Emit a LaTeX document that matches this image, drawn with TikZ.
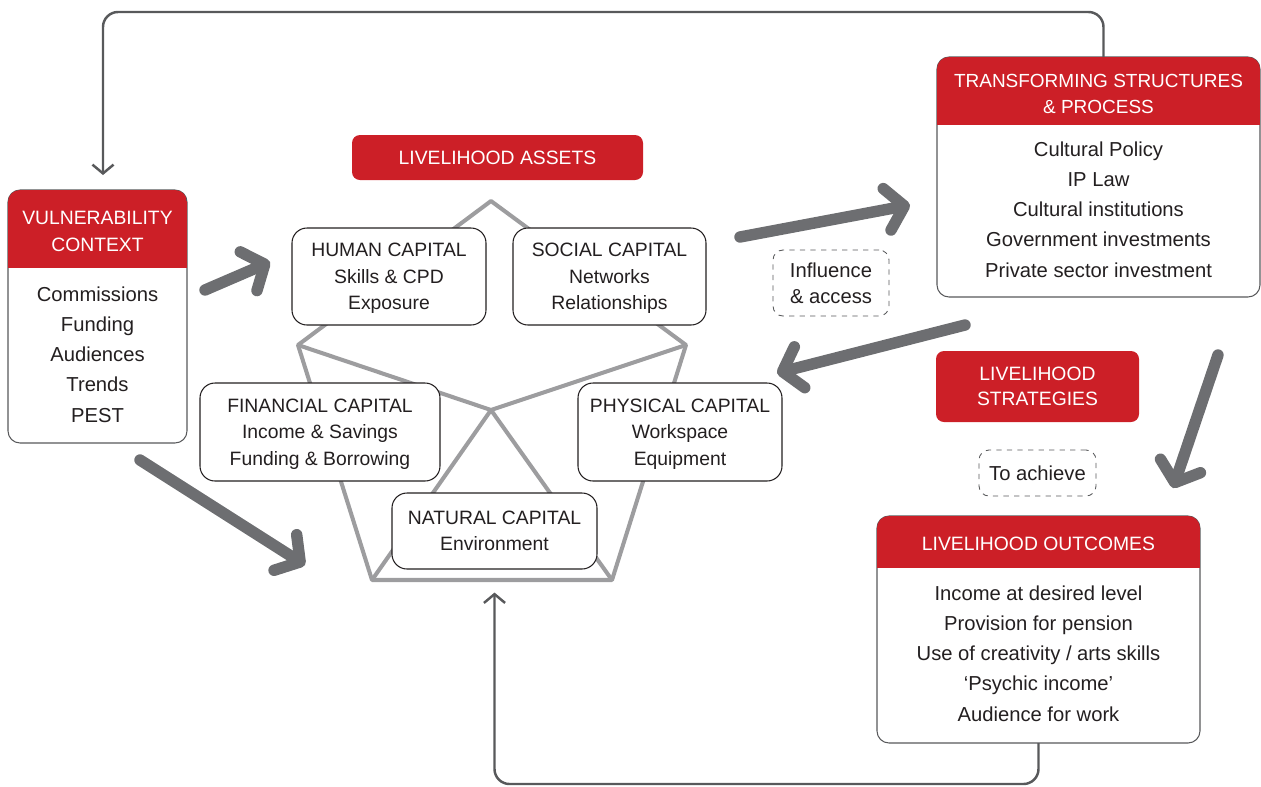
\documentclass[tikz,border=0pt]{standalone}
\usepackage{fontspec}
\setmainfont{Liberation Sans}
\usetikzlibrary{arrows.meta}
\usetikzlibrary{positioning}
\definecolor{slred}{HTML}{CC1F27}
\definecolor{slgrey}{HTML}{6D6E71}
\definecolor{slpent}{HTML}{9D9D9F}
\definecolor{slline}{HTML}{58595B}
\definecolor{slink}{HTML}{231F20}
\tikzset{panel/.style={draw=slline, line width=0.6pt, fill=white, rounded corners=0.24cm, outer sep=0pt}}
\tikzset{capbox/.style={draw=slink, line width=0.6pt, fill=white, rounded corners=0.3cm, align=center, text=slink,
    text depth=0pt, font=\fontsize{11}{15}\selectfont}}
\tikzset{redbox/.style={fill=slred, rounded corners=0.16cm, text=white, align=center, font=\fontsize{11}{14.2}\selectfont}}
\tikzset{hint/.style={draw=slline, dashed, line width=0.5pt, rounded corners=0.2cm, align=center, text=slink, font=\fontsize{11.5}{14.7}\selectfont}}
\tikzset{headtext/.style={text=white, align=center, font=\fontsize{11}{15.3}\selectfont}}
\tikzset{listtext/.style={text=slink, align=center, font=\fontsize{11.5}{17.2}\selectfont}}
\tikzset{bigarrow/.style={draw=slgrey, line width=6.5pt, line cap=round,
    -{Straight Barb[length=10pt,width=24pt,line cap=round,line join=round]}}}
\tikzset{flow/.style={draw=slline, line width=1.4pt, rounded corners=0.3cm,
    -{Straight Barb[length=5pt,width=12pt]}}}
\tikzset{pent/.style={draw=slpent, line width=2.3pt, line join=round}}
\newcommand{\redhead}[2]{
    \begin{scope}
        \clip[rounded corners=0.24cm] (#1.south west) rectangle (#1.north east);
        \fill[slred] (#1.north west) rectangle ([yshift=-#2]#1.north east);
    \end{scope}
}

\begin{document}
\begin{tikzpicture}
        \useasboundingbox (0,0) rectangle (25.22,-15.72);

        % asset pentagon
        \coordinate (ptop) at (9.82,-4.02);
        \coordinate (pleft) at (5.96,-6.9);
        \coordinate (pright) at (13.72,-6.9);
        \coordinate (pbl) at (7.44,-11.6);
        \coordinate (pbr) at (12.24,-11.6);
        \coordinate (pmid) at (9.82,-8.2);
        \draw[pent] (ptop) -- (pright) -- (pbr) -- (pbl) -- (pleft) -- cycle;
        \draw[pent] (pleft) -- (pmid) -- (pright);
        \draw[pent] (pbl) -- (pmid) -- (pbr);

        \node[redbox, minimum width=5.82cm, minimum height=0.9cm] (assets) at (9.95,-3.15) {LIVELIHOOD ASSETS};

        \node[capbox, minimum width=3.88cm, minimum height=1.94cm] (human) at (7.78,-5.53)
            {HUMAN CAPITAL\\Skills \& CPD\\Exposure};
        \node[capbox, minimum width=3.86cm, minimum height=1.94cm] (social) at (12.19,-5.53)
            {SOCIAL CAPITAL\\Networks\\Relationships};
        \node[capbox, minimum width=4.8cm, minimum height=1.96cm] (financial) at (6.4,-8.64)
            {FINANCIAL CAPITAL\\Income \& Savings\\Funding \& Borrowing};
        \node[capbox, minimum width=4.08cm, minimum height=1.96cm] (physical) at (13.6,-8.64)
            {PHYSICAL CAPITAL\\Workspace\\Equipment};
        \node[capbox, minimum width=4.1cm, minimum height=1.52cm] (natural) at (9.89,-10.62)
            {NATURAL CAPITAL\\Environment};

        % vulnerability
        \node[panel, minimum width=3.58cm, minimum height=5.06cm] (vuln) at (1.95,-6.33) {};
        \redhead{vuln}{1.56cm}
        \node[headtext] (vulnhead) at (1.95,-4.62) {VULNERABILITY\\CONTEXT};
        \node[listtext] (vulnlist) at (1.95,-7.09)
            {Commissions\\Funding\\Audiences\\Trends\\PEST};

        % transforming structures
        \node[panel, minimum width=6.46cm, minimum height=4.8cm] (trans) at (21.97,-3.54) {};
        \redhead{trans}{1.36cm}
        \node[headtext, font=\fontsize{10.8}{15.3}\selectfont] (transhead) at (21.97,-1.88)
            {TRANSFORMING STRUCTURES\\\& PROCESS};
        \node[listtext] (translist) at (21.97,-4.19)
            {Cultural Policy\\IP Law\\Cultural institutions\\Government investments\\Private sector investment};

        \node[redbox, minimum width=4.06cm, minimum height=1.42cm] (strategy) at (20.75,-7.73)
            {LIVELIHOOD\\STRATEGIES};
        \node[hint, minimum width=2.32cm, minimum height=1.32cm] (influence) at (16.62,-5.66)
            {Influence\\\& access};
        \node[hint, minimum width=2.34cm, minimum height=0.92cm] (achieve) at (20.75,-9.46) {To achieve};

        % outcomes
        \node[panel, minimum width=6.46cm, minimum height=4.54cm] (outcome) at (20.77,-12.59) {};
        \redhead{outcome}{1.04cm}
        \node[headtext] (outcomehead) at (20.77,-10.88) {LIVELIHOOD OUTCOMES};
        \node[listtext] (outcomelist) at (20.77,-13.07)
            {Income at desired level\\Provision for pension\\Use of creativity / arts skills\\‘Psychic income’\\Audience for work};

        % big arrows
        \coordinate (vulnout) at (4.1,-5.8);
        \coordinate (assetin) at (5.4,-5.24);
        \coordinate (vulndown) at (2.8,-9.2);
        \coordinate (pentin) at (6.1,-11.3);
        \coordinate (socialout) at (14.8,-4.74);
        \coordinate (transin) at (18.2,-4.1);
        \coordinate (transout) at (19.3,-6.5);
        \coordinate (physin) at (15.54,-7.46);
        \coordinate (stratout) at (24.36,-7.1);
        \coordinate (outcomein) at (23.46,-9.76);
        \draw[bigarrow] (vulnout) -- (assetin);
        \draw[bigarrow] (vulndown) -- (pentin);
        \draw[bigarrow] (socialout) -- (transin);
        \draw[bigarrow] (transout) -- (physin);
        \draw[bigarrow] (stratout) -- (outcomein);

        % feedback loops
        \draw[flow, shorten >=0.3cm] ([xshift=0.1cm]trans.north) -- ++(0,0.9) -| ([xshift=0.11cm]vuln.north);
        \draw[flow, shorten >=0.46cm] (outcome.south) -- ++(0,-0.82) -| (natural.south);
    \end{tikzpicture}
\end{document}
